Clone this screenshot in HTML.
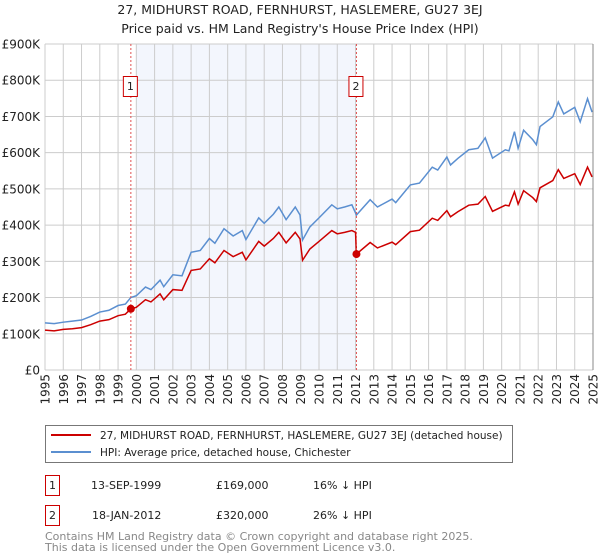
<!DOCTYPE html>
<html><head><meta charset="utf-8"><style>
body{margin:0;background:#fff}
svg{display:block;font-family:"DejaVu Sans","Liberation Sans",sans-serif}
</style></head><body>
<svg id="chart" width="600" height="560" viewBox="0 0 600 560">
<text x="300" y="14" text-anchor="middle" font-size="12.5" fill="#222">27, MIDHURST ROAD, FERNHURST, HASLEMERE, GU27 3EJ</text>
<text x="300" y="33" text-anchor="middle" font-size="12.5" fill="#222">Price paid vs. HM Land Registry's House Price Index (HPI)</text>
<g id="plot"></g>
<g>
<rect x="45.5" y="425.5" width="467" height="37" fill="#fff" stroke="#777"/>
<line x1="51" y1="435" x2="91" y2="435" stroke="#cc0000" stroke-width="2"/>
<text x="100" y="439" font-size="10.5" fill="#222">27, MIDHURST ROAD, FERNHURST, HASLEMERE, GU27 3EJ (detached house)</text>
<line x1="51" y1="452" x2="91" y2="452" stroke="#5b8fd0" stroke-width="2"/>
<text x="100" y="456" font-size="10.5" fill="#222">HPI: Average price, detached house, Chichester</text>
</g>
<g font-size="11" fill="#222">
<rect x="45.5" y="475.5" width="14" height="20" fill="#fff" stroke="#cc0000"/>
<text x="52.5" y="489" text-anchor="middle">1</text>
<text x="91" y="489">13-SEP-1999</text>
<text x="216" y="489">£169,000</text>
<text x="313" y="489">16% ↓ HPI</text>
<rect x="45.5" y="505.5" width="14" height="20" fill="#fff" stroke="#cc0000"/>
<text x="52.5" y="519" text-anchor="middle">2</text>
<text x="92" y="519">18-JAN-2012</text>
<text x="216" y="519">£320,000</text>
<text x="313" y="519">26% ↓ HPI</text>
</g>
<text x="45" y="540" font-size="11" fill="#888">Contains HM Land Registry data © Crown copyright and database right 2025.</text>
<text x="45" y="551" font-size="11" fill="#888">This data is licensed under the Open Government Licence v3.0.</text>
</svg>
<script>
const yTicks=[0,100,200,300,400,500,600,700,800,900];
const yTickLabels=["£0","£100K","£200K","£300K","£400K","£500K","£600K","£700K","£800K","£900K"];
const xTicks=[1995,1996,1997,1998,1999,2000,2001,2002,2003,2004,2005,2006,2007,2008,2009,2010,2011,2012,2013,2014,2015,2016,2017,2018,2019,2020,2021,2022,2023,2024,2025];
const hpiDates=[1995.0,1995.5,1996,1996.5,1997,1997.5,1998,1998.5,1999,1999.4,1999.7,2000,2000.5,2000.8,2001.3,2001.5,2002,2002.5,2003,2003.5,2004,2004.3,2004.8,2005.3,2005.8,2006,2006.7,2007,2007.5,2007.8,2008.2,2008.7,2008.96,2009.1,2009.5,2010.0,2010.7,2011.0,2011.4,2011.8,2012.05,2012.8,2013.2,2014,2014.2,2015,2015.5,2016.2,2016.5,2017,2017.2,2017.6,2018.2,2018.7,2019.1,2019.5,2020.2,2020.4,2020.7,2020.9,2021.2,2021.7,2021.9,2022.1,2022.8,2023.1,2023.4,2024.0,2024.3,2024.7,2024.95];
const hpiValues=[130,128,132,135,138,148,160,165,178,182,200,205,229,222,248,230,263,260,325,330,363,350,390,370,385,360,420,405,430,450,415,450,428,359,395,420,456,445,450,456,428,470,450,472,462,511,516,560,552,588,566,584,608,612,641,585,608,605,658,612,662,636,622,672,699,740,707,725,685,749,712];
const propDates=[1995.0,1995.5,1996,1996.5,1997,1997.5,1998,1998.5,1999,1999.4,1999.7,2000,2000.5,2000.8,2001.3,2001.5,2002,2002.5,2003,2003.5,2004,2004.3,2004.8,2005.3,2005.8,2006,2006.7,2007,2007.5,2007.8,2008.2,2008.7,2008.96,2009.1,2009.5,2010.0,2010.7,2011.0,2011.4,2011.8,2012.0,2012.05,2012.8,2013.2,2014,2014.2,2015,2015.5,2016.2,2016.5,2017,2017.2,2017.6,2018.2,2018.7,2019.1,2019.5,2020.2,2020.4,2020.7,2020.9,2021.2,2021.7,2021.9,2022.1,2022.8,2023.1,2023.4,2024.0,2024.3,2024.7,2024.95];
const propValues=[110,108,112,114,117,125,135,139,150,154,169,173,194,188,210,194,222,220,275,279,307,296,330,313,325,304,355,342,363,380,351,380,362,303,334,355,385,376,380,385,380,320,352,337,353,346,382,386,419,413,440,423,437,455,458,479,438,455,453,492,458,495,476,465,503,523,553,529,542,512,560,533];
const saleDates=[1999.7,2012.05];
const saleValues=[169,320];
const saleLabels=["1","2"];

const NS="http://www.w3.org/2000/svg";
const X0=45,X1=593,Y0=370,Y1=44;
const xs=d=>X0+(d-1995)/(2025-1995)*(X1-X0);
const ys=v=>Y0-v/900*(Y0-Y1);
const plot=document.getElementById('plot');
function mk(tag,attrs,parent){const e=document.createElementNS(NS,tag);for(const k in attrs)e.setAttribute(k,attrs[k]);(parent||plot).appendChild(e);return e;}

const shade=mk('rect',{x:xs(2000),y:Y1,width:xs(saleDates[1])-xs(2000),height:Y0-Y1,fill:'#f3f6fd'});


xTicks.forEach((t,i)=>{
  const l=mk('line',{x1:xs(t),x2:xs(t),y1:Y1,y2:Y0,stroke:'#ccc','stroke-width':1});
  
  
  const tx=mk('text',{x:0,y:0,'font-size':12,fill:'#222','text-anchor':'end',transform:`translate(${xs(t)+4.5},${Y0+4}) rotate(-90)`});
  tx.textContent=t;
  
  
});
yTicks.forEach((t,i)=>{
  const l=mk('line',{x1:X0,x2:X1,y1:ys(t),y2:ys(t),stroke:'#ccc','stroke-width':1});
  
  
  const tx=mk('text',{x:40,y:ys(t)+4.5,'font-size':12,fill:'#222','text-anchor':'end'});
  tx.textContent=yTickLabels[i];
  
  
});
const hl=mk('polyline',{points:hpiDates.map((d,i)=>xs(d)+','+ys(hpiValues[i])).join(' '),fill:'none',stroke:'#5b8fd0','stroke-width':1.5});


const pl=mk('polyline',{points:propDates.map((d,i)=>xs(d)+','+ys(propValues[i])).join(' '),fill:'none',stroke:'#cc0000','stroke-width':1.5});


saleDates.forEach((d,i)=>{
  const v=mk('line',{x1:xs(d),x2:xs(d),y1:Y1,y2:Y0,stroke:'#e05050','stroke-width':1,'stroke-dasharray':'2,2'});
  
  
  const c=mk('circle',{cx:xs(d),cy:ys(saleValues[i]),r:4,fill:'#cc0000'});
  
  
  const b=mk('rect',{x:xs(d)-7.5,y:76.5,width:14,height:20,fill:'#fff',stroke:'#cc0000'});
  
  
  const t=mk('text',{x:xs(d)-0.5,y:90,'font-size':11,fill:'#222','text-anchor':'middle'});
  t.textContent=saleLabels[i];
  
  
});
const ax=mk('line',{x1:X1,x2:X1,y1:Y1,y2:Y0,stroke:'#888','stroke-width':1});


</script>
</body></html>
